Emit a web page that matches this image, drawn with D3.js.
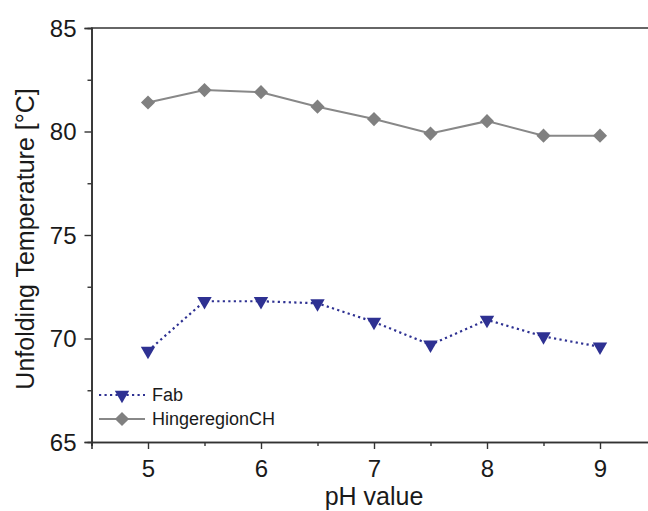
<!DOCTYPE html>
<html><head><meta charset="utf-8">
<script src="https://cdn.jsdelivr.net/npm/d3@7"></script>
<style>body{margin:0;background:#fff}svg{display:block}text{font-family:"Liberation Sans",Arial,sans-serif;fill:#1a1a1a}</style>
</head><body>
<script>
const phValues = [5, 5.5, 6, 6.5, 7, 7.5, 8, 8.5, 9];
const fab = [69.4, 71.8, 71.8, 71.7, 70.8, 69.7, 70.9, 70.1, 69.6];
const hinge = [81.4, 82.0, 81.9, 81.2, 80.6, 79.9, 80.5, 79.8, 79.8];
const xTicks = [5, 6, 7, 8, 9];
const yTicks = [65, 70, 75, 80, 85];
const seriesNames = ["Fab", "HingeregionCH"];

const W = 648, H = 511;
const svg = d3.select("body").append("svg").attr("width", W).attr("height", H);
const x = d3.scaleLinear().domain([4.5, 9.5]).range([91.5, 656.5]);
const y = d3.scaleLinear().domain([65, 85]).range([442, 28]);
const axisColor = "#333";

svg.append("line").attr("x1", 91).attr("x2", W).attr("y1", y(85)).attr("y2", y(85))
  .attr("stroke", axisColor).attr("stroke-width", 1.6);

const gx = svg.append("g").attr("transform", `translate(0,${y(65)})`);
gx.call(d3.axisBottom(x).tickValues(xTicks).tickSize(7).tickPadding(11).tickFormat(d3.format("d")));
gx.append("g").call(d3.axisBottom(x).tickValues([4.5,5.5,6.5,7.5,8.5]).tickSize(4).tickFormat(""));
const gy = svg.append("g").attr("transform", `translate(${x(4.5)},0)`);
gy.call(d3.axisLeft(y).tickValues(yTicks).tickSize(7).tickPadding(8).tickFormat(d3.format("d")));
gy.append("g").call(d3.axisLeft(y).tickValues([67.5,72.5,77.5,82.5]).tickSize(4).tickFormat(""));
svg.selectAll(".domain").attr("stroke", axisColor).attr("stroke-width", 1.6);
svg.selectAll(".tick line").attr("stroke", axisColor).attr("stroke-width", 1.4);
svg.selectAll(".tick text").attr("font-size", 24).style("font-family", "Liberation Sans, Arial").attr("fill", "#1a1a1a");
gx.selectAll(".tick text").attr("dy", "0.71em");
gy.selectAll(".tick text").attr("dy", "0.35em");

svg.append("text").attr("x", 374).attr("y", 505).attr("text-anchor", "middle")
  .attr("font-size", 25).text("pH value");
svg.append("text").attr("transform", `translate(34,239) rotate(-90)`).attr("text-anchor", "middle")
  .attr("font-size", 25).text("Unfolding Temperature [°C]");

const line = d3.line().x((d, i) => x(phValues[i])).y(d => y(d));
const tri = d3.symbol().type(d3.symbolTriangle).size(90);
const sq = d3.symbol().type(d3.symbolSquare).size(100);

svg.append("path").datum(hinge).attr("d", line).attr("fill", "none")
  .attr("stroke", "#888").attr("stroke-width", 2);
svg.selectAll(".dia").data(hinge).enter().append("path")
  .attr("d", sq).attr("fill", "#808080")
  .attr("transform", (d, i) => `translate(${x(phValues[i])},${y(d)}) rotate(45)`);

svg.append("path").datum(fab).attr("d", line).attr("fill", "none")
  .attr("stroke", "#2e3192").attr("stroke-width", 2.2).attr("stroke-dasharray", "2.2,3.3");
svg.selectAll(".tri").data(fab).enter().append("path")
  .attr("d", tri).attr("fill", "#2e3192")
  .attr("transform", (d, i) => `translate(${x(phValues[i])},${y(d)}) rotate(180)`);

const lg = svg.append("g");
lg.append("line").attr("x1", 99).attr("x2", 145).attr("y1", 395).attr("y2", 395)
  .attr("stroke", "#2e3192").attr("stroke-width", 2.2).attr("stroke-dasharray", "2.2,3.3");
lg.append("path").attr("d", tri).attr("fill", "#2e3192").attr("transform", "translate(122,395) rotate(180)");
lg.append("text").attr("x", 152).attr("y", 401).attr("font-size", 18).text(seriesNames[0]);
lg.append("line").attr("x1", 99).attr("x2", 145).attr("y1", 419).attr("y2", 419)
  .attr("stroke", "#888").attr("stroke-width", 2);
lg.append("path").attr("d", sq).attr("fill", "#808080").attr("transform", "translate(122,419) rotate(45)");
lg.append("text").attr("x", 152).attr("y", 425).attr("font-size", 18).text(seriesNames[1]);
</script>
</body></html>
